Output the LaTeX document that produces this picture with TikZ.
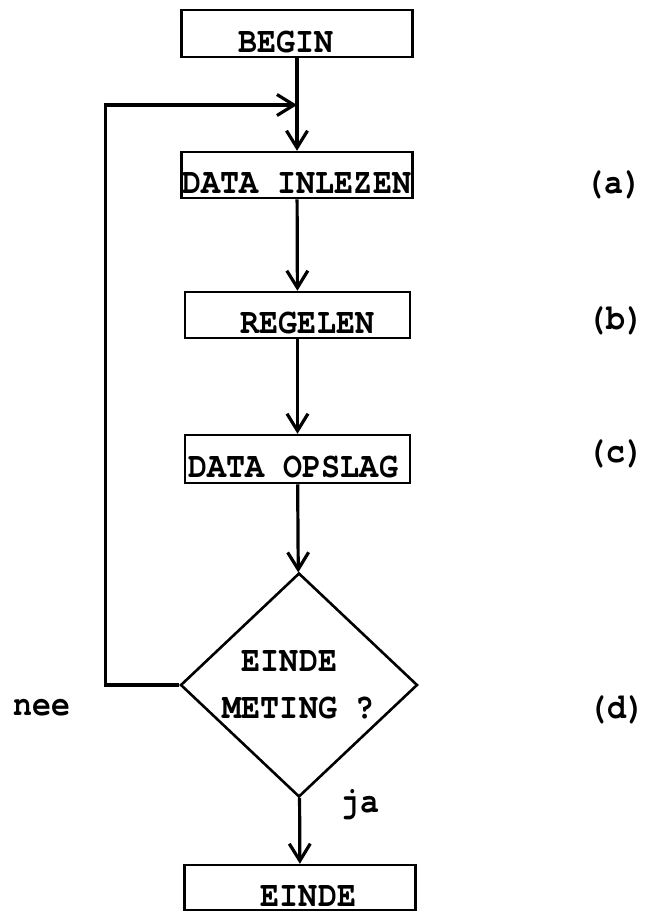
\documentclass[tikz,border=0pt]{standalone}
\usepackage{fontspec}
\setmonofont{TeX Gyre Cursor}[FakeStretch=0.88]
\usetikzlibrary{shapes.geometric,arrows.meta}
\begin{document}
\begin{tikzpicture}[x=1pt,y=-1pt,font=\ttfamily\bfseries\fontsize{36}{46.5}\selectfont,
  stap/.style={draw,line width=2.5pt,inner xsep=0pt,text height=37pt,text depth=0pt},
  keuze/.style={draw,diamond,line width=2.6pt,inner sep=0pt,minimum width=237pt,minimum height=224pt,align=left},
  pijl/.style={line width=3.2pt,-{Straight Barb[length=17pt,width=21pt]}}]
 \useasboundingbox (0,0) rectangle (650,914);
 % stappen
 \node[stap,minimum width=231pt,minimum height=47pt] (begin) at (297,33.5) {BEGIN\kern22pt\relax};
 \node[stap,minimum width=231pt,minimum height=46pt] (inlezen) at (297,175) {DATA INLEZEN};
 \node[stap,minimum width=225pt,minimum height=46pt] (regelen) at (297.5,315) {\hspace{20pt}REGELEN};
 \node[stap,minimum width=225pt,minimum height=48pt] (opslag) at (297.5,459) {DATA OPSLAG\kern8pt\relax};
 \node[keuze] (meting) at (299,685) {\ EINDE\\METING ?};
 \node[stap,minimum width=231pt,minimum height=45pt] (einde) at (300,887.5) {\hspace{17pt}EINDE};
 % verbindingen
 \coordinate (terug) at (297,105);
 \draw[pijl] (begin) -- (inlezen);
 \draw[pijl] (inlezen) -- (regelen);
 \draw[pijl] (regelen) -- (opslag);
 \draw[pijl] (opslag) -- (meting);
 \draw[pijl] (meting) -- (einde);
 \draw[pijl] (meting.west) -- ++(-74,0) |- (terug);
 % teksten
 \node[anchor=base] (nee) at (42,715) {nee};
 \node[anchor=base] (ja) at (360,812) {ja};
 \node (a) at (614,185) {(a)};
 \node (b) at (616,321) {(b)};
 \node (c) at (616,454) {(c)};
 \node (d) at (617,710) {(d)};
\end{tikzpicture}
\end{document}
